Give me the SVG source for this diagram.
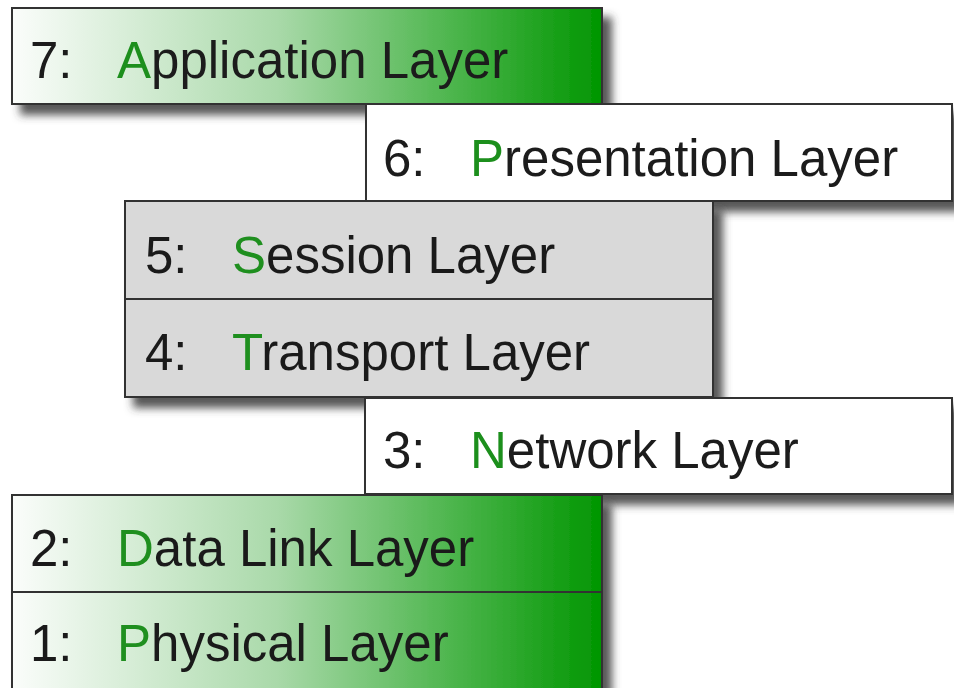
<svg xmlns="http://www.w3.org/2000/svg" width="954" height="688" viewBox="0 0 954 688">
  <defs>
    <linearGradient id="green" x1="0" y1="0" x2="1" y2="0">
      <stop offset="0" stop-color="#fbfdfb"/>
      <stop offset="0.45" stop-color="#a9d9a9"/>
      <stop offset="0.75" stop-color="#4cb54c"/>
      <stop offset="1" stop-color="#019601"/>
    </linearGradient>
    <filter id="shadow" x="-5%" y="-10%" width="115%" height="140%">
      <feDropShadow dx="9" dy="10" stdDeviation="4" flood-color="#3a3a3a" flood-opacity="0.85"/>
    </filter>
  </defs>
  <style>
    .box { stroke: #333333; stroke-width: 2; }
    .g { fill: url(#green); }
    .w { fill: #ffffff; }
    .s { fill: #d9d9d9; }
    text { font-family: "Liberation Sans", Arial, sans-serif; font-size: 51px; fill: #1a1a1a; }
    .k { fill: #1f8f1f; }
  </style>
  <rect width="954" height="688" fill="#ffffff"/>

  <g id="layer7" filter="url(#shadow)">
    <rect class="box g" x="12" y="8" width="590" height="96"/>
    <text x="30" y="78">7:</text>
    <text x="117" y="78"><tspan class="k">A</tspan>pplication Layer</text>
  </g>

  <g id="layer6" filter="url(#shadow)">
    <rect class="box w" x="366" y="104" width="586" height="97"/>
    <text x="383" y="176">6:</text>
    <text x="470" y="176"><tspan class="k">P</tspan>resentation Layer</text>
  </g>

  <g id="layer5-4" filter="url(#shadow)">
    <rect class="box s" x="125" y="201" width="588" height="98"/>
    <rect class="box s" x="125" y="299" width="588" height="98"/>
  </g>
  <g id="layer5">
    <text x="145" y="273">5:</text>
    <text x="232" y="273"><tspan class="k">S</tspan>ession Layer</text>
  </g>
  <g id="layer4">
    <text x="145" y="370">4:</text>
    <text x="232" y="370"><tspan class="k">T</tspan>ransport Layer</text>
  </g>

  <g id="layer3" filter="url(#shadow)">
    <rect class="box w" x="365" y="398" width="587" height="96"/>
    <text x="383" y="468">3:</text>
    <text x="470" y="468"><tspan class="k">N</tspan>etwork Layer</text>
  </g>

  <g id="layer2-1" filter="url(#shadow)">
    <rect class="box g" x="12" y="495" width="590" height="97"/>
    <rect class="box g" x="12" y="592" width="590" height="100"/>
  </g>
  <g id="layer2">
    <text x="30" y="566">2:</text>
    <text x="117" y="566"><tspan class="k">D</tspan>ata Link Layer</text>
  </g>
  <g id="layer1">
    <text x="30" y="661">1:</text>
    <text x="117" y="661"><tspan class="k">P</tspan>hysical Layer</text>
  </g>

  <g id="connectors"/>
</svg>
